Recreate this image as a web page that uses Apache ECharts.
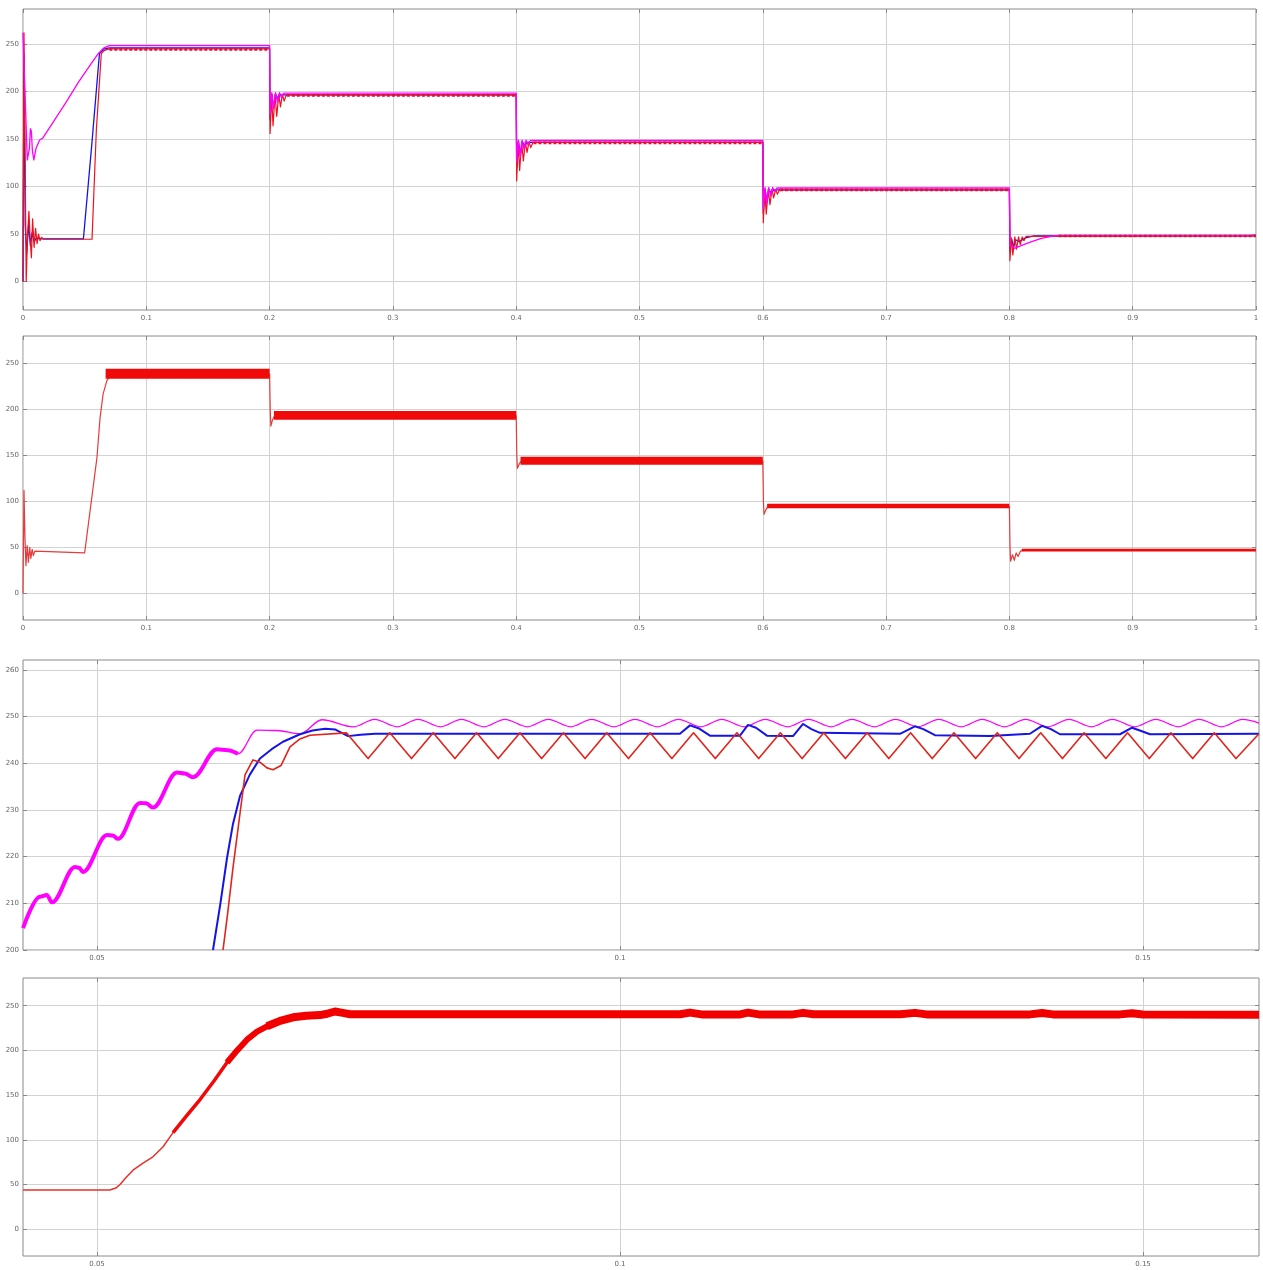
<!DOCTYPE html>
<html>
<head>
<meta charset="utf-8">
<script src="https://cdn.jsdelivr.net/npm/echarts@6/dist/echarts.min.js"></script>
<style>
  html, body { margin: 0; padding: 0; background: #ffffff; }
  #chart { width: 1263px; height: 1270px; }
</style>
</head>
<body>
<div id="chart"></div>
<script>
// ---------- tick values ----------
const fullTimeTicks = [0, 0.1, 0.2, 0.3, 0.4, 0.5, 0.6, 0.7, 0.8, 0.9, 1];
const speedTicks = [0, 50, 100, 150, 200, 250];
const zoomTimeTicks = [0.05, 0.1, 0.15];
const zoomSpeedTicks = [200, 210, 220, 230, 240, 250, 260];

// ---------- panel 1: reference / estimated / measured speed, full run ----------
const refSpeed = [
  [0, 262], [0.0012, 215], [0.0035, 128], [0.0052, 140], [0.006, 161], [0.0068, 158], [0.0076, 138],
  [0.0088, 128], [0.0105, 140], [0.0135, 149], [0.016, 151], [0.025, 169], [0.035, 189], [0.045, 210],
  [0.055, 229], [0.061, 240], [0.065, 245.5], [0.07, 248.5], [0.2, 248.5],
  [0.2004, 176], [0.2018, 199], [0.2032, 182], [0.2048, 199], [0.2064, 189], [0.208, 199], [0.2096, 194], [0.2115, 198.5], [0.4, 198.5],
  [0.4004, 126], [0.4018, 149], [0.4032, 131], [0.4048, 149], [0.4064, 139], [0.408, 149], [0.4096, 144], [0.4115, 148.5], [0.6, 148.5],
  [0.6004, 77], [0.6018, 99], [0.6032, 82], [0.6048, 99], [0.6064, 90], [0.608, 99], [0.6096, 95], [0.6115, 98.5], [0.8, 98.5],
  [0.8006, 38], [0.804, 35], [0.81, 38], [0.818, 42], [0.826, 45.5], [0.834, 47.5], [0.84, 48.5], [1, 48.5]
];
const estSpeed = [
  [0, 0], [0.0008, 240], [0.0018, 60], [0.003, 30], [0.0045, 60], [0.006, 38], [0.0075, 52], [0.009, 42],
  [0.011, 46], [0.014, 45], [0.049, 45], [0.0555, 140], [0.062, 240], [0.066, 245], [0.07, 246], [0.2, 246],
  [0.2004, 170], [0.2018, 197], [0.2034, 184], [0.205, 197], [0.2068, 193], [0.209, 196.5], [0.4, 196.5],
  [0.4004, 120], [0.4018, 147], [0.4034, 134], [0.405, 147], [0.4068, 143], [0.409, 146.5], [0.6, 146.5],
  [0.6004, 72], [0.6018, 97], [0.6034, 84], [0.605, 97], [0.6068, 93], [0.609, 96.5], [0.8, 96.5],
  [0.8004, 32], [0.8018, 45], [0.8034, 36], [0.805, 44], [0.808, 42], [0.813, 46], [0.82, 48], [1, 48]
];
const actSpeed = [
  [0, 0], [0.0008, 262], [0.0016, 150], [0.0026, 0], [0.0036, 45], [0.0048, 74], [0.0058, 45], [0.0068, 25],
  [0.0078, 66], [0.009, 36], [0.0102, 56], [0.0114, 40], [0.0126, 50], [0.0138, 43], [0.015, 46.5], [0.017, 44.5],
  [0.056, 44.5], [0.0595, 160], [0.0635, 240], [0.066, 243.5], [0.07, 245], [0.2, 245],
  [0.2004, 156], [0.2016, 197], [0.2028, 164], [0.2044, 197], [0.2058, 174], [0.2074, 197], [0.2088, 184], [0.2104, 197], [0.2118, 190], [0.2135, 196.5], [0.4, 196.5],
  [0.4004, 106], [0.4016, 147], [0.4028, 117], [0.4044, 147], [0.4058, 127], [0.4074, 147], [0.4088, 136], [0.4104, 147], [0.4118, 141], [0.4135, 146.5], [0.6, 146.5],
  [0.6004, 62], [0.6016, 97], [0.6028, 71], [0.6044, 97], [0.6058, 81], [0.6074, 97], [0.6088, 88], [0.6104, 97], [0.6118, 92], [0.6135, 96.5], [0.8, 96.5],
  [0.8004, 22], [0.8016, 46], [0.8028, 28], [0.8044, 47], [0.8058, 34], [0.8074, 47], [0.8088, 39], [0.8104, 47], [0.8118, 43], [0.8135, 47.5], [1, 48]
];
// steady-state ripple of the measured speed: [from, to, level]
const actRippleLevels = [
  [0.07, 0.2, 244.5], [0.214, 0.4, 196], [0.414, 0.6, 146], [0.614, 0.8, 96.5], [0.84, 1, 48]
];

// ---------- panel 2: motor speed, full run ----------
const motorSpeed = [
  [0, 0], [0.0008, 112], [0.0016, 60], [0.0024, 30], [0.0034, 52], [0.0044, 34], [0.0054, 50], [0.0064, 38],
  [0.0074, 48], [0.0084, 41], [0.0096, 46], [0.011, 44], [0.05, 44], [0.06, 148], [0.0625, 191], [0.065, 217],
  [0.068, 231.5], [0.071, 237], [0.075, 238.5], [0.2, 238.5],
  [0.2005, 200], [0.201, 182], [0.2022, 188], [0.2035, 192], [0.206, 193.5], [0.4, 193.5],
  [0.4005, 150], [0.401, 136], [0.4022, 140], [0.4035, 143], [0.406, 144], [0.6, 144],
  [0.6005, 100], [0.601, 86], [0.6022, 90], [0.6035, 93.5], [0.606, 94.5], [0.8, 94.5],
  [0.8005, 50], [0.801, 35], [0.8025, 42], [0.804, 36], [0.8055, 44], [0.807, 40], [0.809, 46], [0.812, 47], [1, 47]
];
// ripple envelope of the motor speed: [from, to, low, high]
const motorRippleBands = [
  [0.067, 0.2, 233.5, 244.5], [0.2035, 0.4, 189, 198.5], [0.4035, 0.6, 140, 148.5],
  [0.6035, 0.8, 92.5, 97.5], [0.81, 1, 45.5, 48.5]
];

// ---------- panel 3: start-up detail, 200..260 ----------
const refZoom = [
  [0.04293, 204.7], [0.04455, 211.4], [0.0452, 211.8], [0.0457, 210.2], [0.0479, 217.8], [0.0483, 217.6],
  [0.04866, 216.7], [0.05096, 224.6], [0.0515, 224.5], [0.05201, 223.8], [0.05411, 231.5], [0.0547, 231.4],
  [0.05535, 230.5], [0.05765, 238.0], [0.0584, 237.8], [0.05918, 237.0], [0.06147, 243.0], [0.0625, 242.8],
  [0.06348, 242.0], [0.0653, 247.1], [0.06721, 247.0], [0.06941, 246.3], [0.07151, 249.3],
  [0.07454, 247.8], [0.07654, 249.4], [0.07869, 247.8], [0.08069, 249.4], [0.08284, 247.8], [0.08484, 249.4],
  [0.08699, 247.8], [0.08899, 249.4], [0.09114, 247.8], [0.09314, 249.4], [0.09529, 247.8], [0.09729, 249.4],
  [0.09943, 247.8], [0.10143, 249.4], [0.10358, 247.8], [0.10558, 249.4], [0.10773, 247.8], [0.10973, 249.4],
  [0.11188, 247.8], [0.11388, 249.4], [0.11603, 247.8], [0.11803, 249.4], [0.12018, 247.8], [0.12218, 249.4],
  [0.12433, 247.8], [0.12633, 249.4], [0.12848, 247.8], [0.13048, 249.4], [0.13263, 247.8], [0.13463, 249.4],
  [0.13677, 247.8], [0.13877, 249.4], [0.14092, 247.8], [0.14292, 249.4], [0.14507, 247.8], [0.14707, 249.4],
  [0.14922, 247.8], [0.15122, 249.4], [0.15337, 247.8], [0.15537, 249.4], [0.15752, 247.8], [0.15952, 249.4],
  [0.16109, 248.6]
];
const estZoom = [
  [0.06109, 200], [0.0618, 210], [0.06243, 219.7], [0.063, 227], [0.06367, 233], [0.0646, 237.5],
  [0.06558, 241], [0.0667, 243], [0.06778, 244.6], [0.06941, 246.2], [0.0706, 247], [0.0718, 247.4],
  [0.0728, 247.2], [0.074, 245.8], [0.0752, 246.1], [0.07658, 246.3], [0.10573, 246.3], [0.10669, 248.1],
  [0.1075, 247.5], [0.1086, 245.9], [0.11147, 245.9], [0.11224, 248.2], [0.113, 247.6], [0.11405, 245.9],
  [0.11654, 245.8], [0.1175, 248.4], [0.1183, 247.3], [0.11912, 246.5], [0.12677, 246.3], [0.1282, 247.9],
  [0.129, 247.3], [0.13011, 246], [0.13537, 245.8], [0.13919, 246.3], [0.14034, 248], [0.1412, 247.3],
  [0.14206, 246.2], [0.1478, 246.2], [0.14895, 247.6], [0.1497, 247], [0.15067, 246.2], [0.16109, 246.3]
];
const actZoom = [
  [0.06205, 200], [0.0625, 208], [0.063, 217.6], [0.0636, 228], [0.06415, 237.5], [0.06491, 240.7],
  [0.0656, 240.2], [0.06625, 239], [0.06683, 238.6], [0.06759, 239.5], [0.06845, 243.5], [0.0694, 245.2],
  [0.07036, 246], [0.07384, 246.5],
  [0.07592, 241], [0.07799, 246.5], [0.08007, 241], [0.08214, 246.5], [0.08422, 241], [0.08629, 246.5],
  [0.08836, 241], [0.09044, 246.5], [0.09251, 241], [0.09459, 246.5], [0.09666, 241], [0.09873, 246.5],
  [0.10081, 241], [0.10288, 246.5], [0.10496, 241], [0.10703, 246.5], [0.10911, 241], [0.11118, 246.5],
  [0.11326, 241], [0.11533, 246.5], [0.11741, 241], [0.11948, 246.5], [0.12155, 241], [0.12363, 246.5],
  [0.1257, 241], [0.12778, 246.5], [0.12985, 241], [0.13193, 246.5], [0.134, 241], [0.13607, 246.5],
  [0.13815, 241], [0.14022, 246.5], [0.1423, 241], [0.14437, 246.5], [0.14645, 241], [0.14852, 246.5],
  [0.1506, 241], [0.15267, 246.5], [0.15475, 241], [0.15682, 246.5], [0.15889, 241], [0.16109, 246.3]
];

// ---------- panel 4: motor speed, start-up detail ----------
const motorZoom = [
  [0.04293, 43.8], [0.05124, 43.8], [0.0518, 46], [0.0522, 50], [0.0528, 58], [0.05344, 66], [0.0544, 74],
  [0.05535, 81], [0.0563, 92], [0.05727, 108], [0.0585, 126], [0.05985, 145], [0.0612, 166], [0.06243, 186.5],
  [0.0634, 200], [0.06434, 212], [0.0653, 221], [0.06625, 227], [0.0675, 233], [0.06874, 237], [0.07, 238.8],
  [0.07132, 239.5], [0.072, 241], [0.07275, 243.5], [0.0735, 242], [0.07419, 240.5], [0.0763, 240.4],
  [0.10573, 240.4], [0.10669, 242.3], [0.1078, 240.3], [0.11147, 240.3],
  [0.11224, 242.3], [0.1133, 240.3], [0.11654, 240.3], [0.1175, 242], [0.1185, 240.4], [0.12677, 240.4],
  [0.1282, 242], [0.1293, 240.3], [0.13919, 240.3], [0.14034, 241.8], [0.1414, 240.3], [0.1478, 240.3],
  [0.14895, 241.5], [0.15, 240.2], [0.16109, 240]
];

// ---------- layout & styling ----------
const RED = '#f2101c', MAGENTA = '#ff00ff', BLUE = '#1414e6';
const labelFont = { fontSize: 7, color: '#666', fontFamily: 'DejaVu Sans' };

const panels = [
  { left: 23, top: 9,   width: 1233, height: 301, x: [0, 1],             xt: fullTimeTicks, y: [-30, 287], yt: speedTicks },
  { left: 23, top: 336, width: 1233, height: 284, x: [0, 1],             xt: fullTimeTicks, y: [-29, 280], yt: speedTicks },
  { left: 23, top: 660, width: 1236, height: 290, x: [0.042926, 0.16109], xt: zoomTimeTicks, y: [200, 262.1], yt: zoomSpeedTicks },
  { left: 23, top: 978, width: 1236, height: 278, x: [0.042926, 0.16109], xt: zoomTimeTicks, y: [-30, 281], yt: speedTicks }
];

const grid = [], xAxis = [], yAxis = [];
panels.forEach((p, i) => {
  grid.push({ left: p.left, top: p.top, width: p.width, height: p.height, show: true,
              borderColor: '#8a8a8a', borderWidth: 1, backgroundColor: '#ffffff' });
  const tickStyle = { show: true, inside: true, length: 4, lineStyle: { color: '#888', width: 1 } };
  const hiddenLine = { show: false, onZero: false };
  xAxis.push({
    gridIndex: i, type: 'value', position: 'bottom', min: p.x[0], max: p.x[1],
    axisLine: hiddenLine,
    axisTick: Object.assign({ customValues: p.xt }, tickStyle),
    axisLabel: Object.assign({ customValues: p.xt, margin: 5 }, labelFont),
    splitLine: { show: true, lineStyle: { color: '#d2d2d2', width: 1 } }
  });
  xAxis.push({
    gridIndex: i, type: 'value', position: 'top', min: p.x[0], max: p.x[1],
    axisLine: hiddenLine, axisLabel: { show: false }, splitLine: { show: false },
    axisTick: Object.assign({ customValues: p.xt }, tickStyle)
  });
  yAxis.push({
    gridIndex: i, type: 'value', position: 'left', min: p.y[0], max: p.y[1],
    axisLine: hiddenLine,
    axisTick: Object.assign({ customValues: p.yt }, tickStyle),
    axisLabel: Object.assign({ customValues: p.yt, margin: 4 }, labelFont),
    splitLine: { show: true, lineStyle: { color: '#d2d2d2', width: 1 } }
  });
  yAxis.push({
    gridIndex: i, type: 'value', position: 'right', min: p.y[0], max: p.y[1],
    axisLine: hiddenLine, axisLabel: { show: false }, splitLine: { show: false },
    axisTick: Object.assign({ customValues: p.yt }, tickStyle)
  });
});

function line(panel, data, color, width, z, smooth) {
  return {
    type: 'line', xAxisIndex: panel * 2, yAxisIndex: panel * 2, data: data,
    showSymbol: false, symbol: 'none', clip: true, z: z || 2,
    smooth: smooth || false, smoothMonotone: 'x',
    lineStyle: { color: color, width: width, join: 'round', cap: 'butt' }, emphasis: { disabled: true }
  };
}

const series = [
  // panel 1
  line(0, estSpeed, BLUE, 1.3, 2),
  line(0, actSpeed, RED, 1.2, 3),
  line(0, refSpeed, MAGENTA, 1.3, 4),
  {
    type: 'custom', xAxisIndex: 0, yAxisIndex: 0, data: actRippleLevels, z: 5, clip: true,
    encode: { x: [0, 1], y: 2 },
    renderItem: (params, api) => {
      const a = api.coord([api.value(0), api.value(2)]);
      const b = api.coord([api.value(1), api.value(2)]);
      return { type: 'line', shape: { x1: a[0], y1: a[1], x2: b[0], y2: b[1] },
               style: { stroke: '#e0103a', lineWidth: 2.6, lineDash: [3, 2] } };
    }
  },
  // panel 2
  line(1, motorSpeed, '#e83a3a', 1.2, 2),
  {
    type: 'custom', xAxisIndex: 2, yAxisIndex: 2, data: motorRippleBands, z: 3, clip: true,
    encode: { x: [0, 1], y: [2, 3] },
    renderItem: (params, api) => {
      const a = api.coord([api.value(0), api.value(3)]);
      const b = api.coord([api.value(1), api.value(2)]);
      return { type: 'rect', shape: { x: a[0], y: a[1], width: b[0] - a[0], height: b[1] - a[1] },
               style: { fill: '#f00a0a' } };
    }
  },
  // panel 3
  line(2, refZoom, MAGENTA, 1.3, 2, 0.35),
  line(2, refZoom.filter(d => d[0] < 0.0636), MAGENTA, 4, 2, 0.35),
  line(2, estZoom, BLUE, 2, 3),
  line(2, actZoom, '#e2231a', 1.6, 4),
  // panel 4
  line(3, motorZoom, '#e8302a', 1.5, 2),
  line(3, motorZoom.filter(d => d[0] >= 0.0565), '#f20808', 3.5, 3),
  line(3, motorZoom.filter(d => d[0] >= 0.0615), '#f20000', 6, 4),
  line(3, motorZoom.filter(d => d[0] >= 0.0655), '#f20000', 8, 5)
];

const chart = echarts.init(document.getElementById('chart'), null, { renderer: 'canvas' });
chart.setOption({
  animation: false,
  backgroundColor: '#ffffff',
  grid: grid, xAxis: xAxis, yAxis: yAxis, series: series
});
</script>
</body>
</html>
